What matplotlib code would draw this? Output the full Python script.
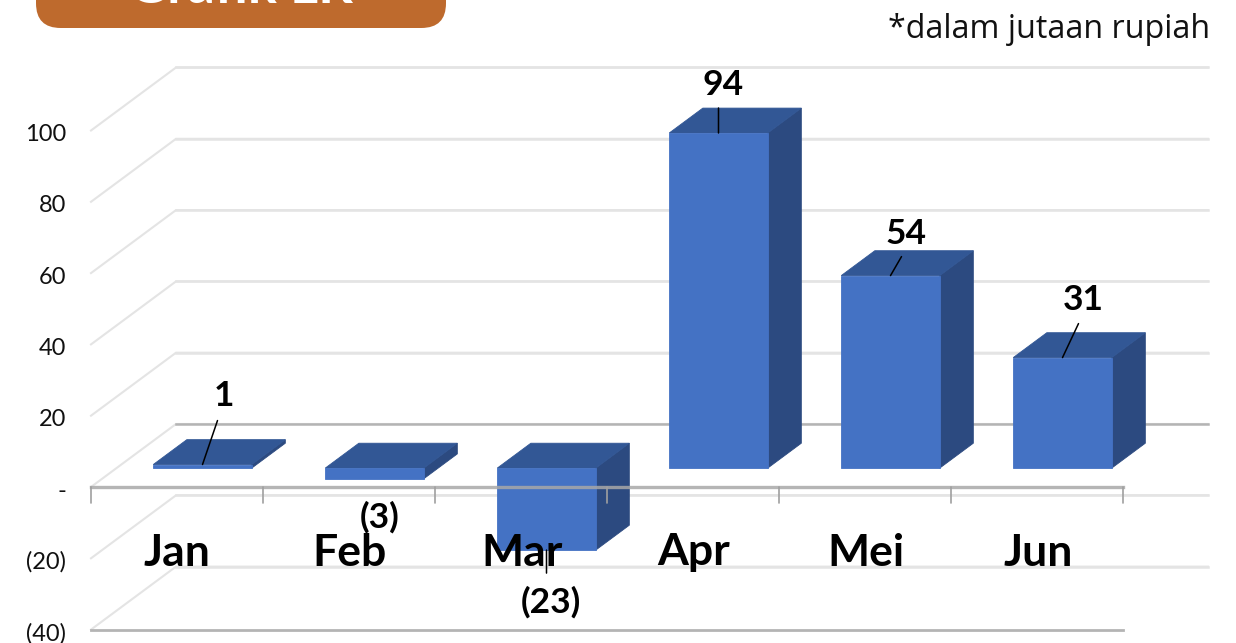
# ---------------------------
# Grafik LR - 3D looking column chart
# ---------------------------
import matplotlib
matplotlib.use("Agg")
import matplotlib.pyplot as plt
from matplotlib.patches import FancyBboxPatch, Polygon

# ---------------------------
# Data
# ---------------------------
months = ["Jan", "Feb", "Mar", "Apr", "Mei", "Jun"]
values = [1, -3, -23, 94, 54, 31]
value_labels = ["1", "(3)", "(23)", "94", "54", "31"]
y_ticks = [100, 80, 60, 40, 20, 0, -20, -40]
y_tick_labels = ["100", "80", "60", "40", "20", "-", "(20)", "(40)"]

# ---------------------------
# Look of the chart
# ---------------------------
W, H = 1236, 643
PX_X = 172.0          # pixels per category
PX_Y = 3.565          # pixels per value unit
FRONT_X, FRONT_Y = 91, 487   # where x=-0.5, y=0 sits on the figure

DEPTH_X = 85 / PX_X   # floor depth in data units
DEPTH_Y = 63 / PX_Y
BAR_WIDTH = 98.5 / PX_X
BAR_D0, BAR_D1 = 0.30, 0.695  # bar front and back, fraction of the floor depth

C_FRONT = "#4472C4"
C_TOP = "#325795"
C_SIDE = "#2C4A80"
C_GRID = "#E4E4E4"
C_AXIS = "#B4B4B4"
C_BOX = "#BE6A2D"

# label offsets in pixels from the middle of the bar's front top edge
label_off = [(21, 72), (5, -35), (4, -49), (5, 51), (16, 45), (21, 61)]
leader_off = [(15, 44), None, (0, -23), (0, 25), (11, 19), (16, 34)]

plt.rcParams["font.family"] = ["Open Sans", "DejaVu Sans"]
LABEL_FONT = ["Lato", "DejaVu Sans"]


def proj(x, y, d):
    """Oblique projection: d=0 is the front of the floor, d=1 the back"""
    return x + DEPTH_X * d, y + DEPTH_Y * d


def box(x0, x1, y0, y1, d0, d1, z):
    top = [proj(x0, y1, d0), proj(x1, y1, d0), proj(x1, y1, d1), proj(x0, y1, d1)]
    side = [proj(x1, y0, d0), proj(x1, y1, d0), proj(x1, y1, d1), proj(x1, y0, d1)]
    front = [proj(x0, y0, d0), proj(x1, y0, d0), proj(x1, y1, d0), proj(x0, y1, d0)]
    for pts, col in ((side, C_SIDE), (top, C_TOP), (front, C_FRONT)):
        ax.add_patch(Polygon(pts, closed=True, fc=col, ec=col, lw=0.6, zorder=z))


fig = plt.figure(figsize=(W / 100, H / 100), dpi=100)
ax = fig.add_axes([0, 0, 1, 1])
ax.set_xlim(-0.5 - FRONT_X / PX_X, -0.5 + (W - FRONT_X) / PX_X)
ax.set_ylim((FRONT_Y - H) / PX_Y, FRONT_Y / PX_Y)
ax.axis("off")

# ---------------------------
# Walls and floor
# ---------------------------
for tick, lab in zip(y_ticks, y_tick_labels):
    (bx, by) = proj(-0.5, tick, 1)
    (ex, ey) = proj(5.5, tick, 1)
    back_col = C_AXIS if tick == 0 else C_GRID
    ax.plot([-0.5, bx, ex], [tick, by, ey], color=C_GRID, lw=1.5, zorder=1,
            solid_joinstyle="miter")
    ax.plot([bx, ex], [by, ey], color=back_col, lw=1.8, zorder=1)
    ax.annotate(lab, (-0.5, tick), xytext=(-25, -2), textcoords="offset pixels",
                ha="right", va="center_baseline", fontsize=17, family=LABEL_FONT,
                color="#111111")

# ---------------------------
# Bars
# ---------------------------
for i, v in enumerate(values):
    left = i - BAR_WIDTH / 2
    box(left, left + BAR_WIDTH, min(v, 0), max(v, 0), BAR_D0, BAR_D1, 3 + i * 0.01)

# front of the floor and the bottom line sit over the bars
ax.plot([-0.5, 5.5], [0, 0], color="#A8A8A8", lw=2.4, alpha=0.85, zorder=5)
ax.plot([-0.5, 5.5], [-40, -40], color=C_AXIS, lw=2.0, zorder=2)
for k in range(7):
    ax.annotate("", (k - 0.5, 0), xytext=(0, -16), textcoords="offset pixels",
                arrowprops=dict(arrowstyle="-", color="#A0A0A0", lw=1.2,
                                shrinkA=0, shrinkB=0), zorder=5)

# ---------------------------
# Labels
# ---------------------------
for i, v in enumerate(values):
    xp, yp = proj(i, v, BAR_D0)
    ax.annotate(value_labels[i], (xp, yp), xytext=label_off[i], textcoords="offset pixels",
                ha="center", va="center_baseline", fontsize=25.5, fontweight="bold",
                family=LABEL_FONT, color="black", zorder=7)
    if leader_off[i]:
        ax.annotate("", xy=(xp, yp), xytext=leader_off[i], textcoords="offset pixels",
                    arrowprops=dict(arrowstyle="-", color="black", lw=1.1,
                                    shrinkA=0, shrinkB=0), zorder=6)

month_px = [177, 350, 522, 694, 866, 1038]
for m, mx in zip(months, month_px):
    fig.text(mx / W, 1 - 549 / H, m, ha="center", va="center_baseline", fontsize=32,
             fontweight="bold", family=LABEL_FONT, color="black", zorder=8)

# ---------------------------
# Header box and note
# ---------------------------
fig.patches.append(FancyBboxPatch((36 / W, 1 - 28 / H), 410 / W, 60 / H,
                                  boxstyle="round,pad=0,rounding_size=0.02",
                                  transform=fig.transFigure, fc=C_BOX, ec="none",
                                  mutation_aspect=W / H, zorder=10))
fig.text(240 / W, 1 - 3 / H, "Grafik LR", ha="center", va="baseline", fontsize=39,
         fontweight="bold", family=LABEL_FONT, color="white", zorder=11)
fig.text(1210 / W, 1 - 25 / H, "*dalam jutaan rupiah", ha="right", va="center_baseline",
         fontsize=23.2, color="#111111")

fig.savefig("out.png", dpi=100)
